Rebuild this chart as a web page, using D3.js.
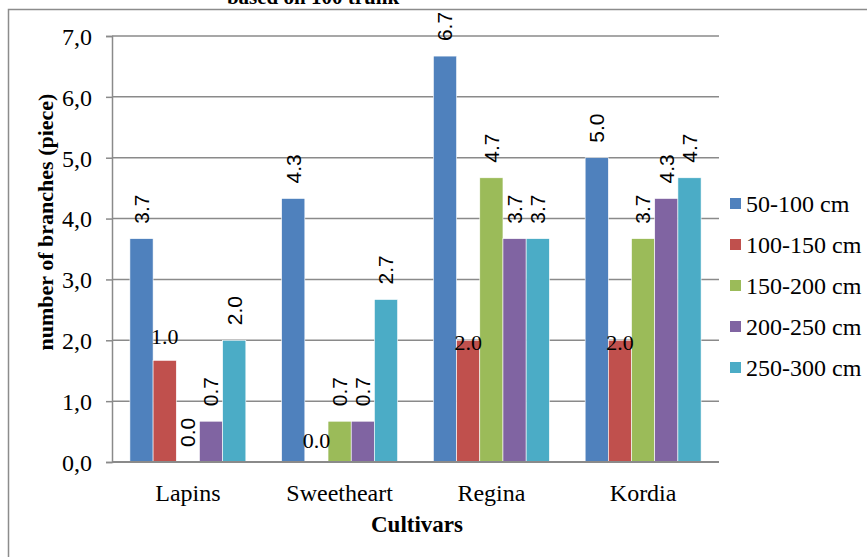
<!doctype html>
<html lang="en">
  <head>
    <meta charset="UTF-8" />
    <title>Number of branches by cultivar</title>
    <script src="https://d3js.org/d3.v7.min.js"></script>
    <style>
      body {
        margin: 0;
        padding: 0;
        background: #fff;
      }
      svg text {
        font-family: 'Liberation Serif', 'Times New Roman', serif;
        fill: #000;
      }
      svg text.rot {
        font-family: 'Liberation Sans', Arial, sans-serif;
      }
    </style>
  </head>
  <body>
    <svg id="chart" width="867" height="557"></svg>

    <script>
      const cultivars = ['Lapins', 'Sweetheart', 'Regina', 'Kordia'];
      const seriesNames = [
        '50-100 cm',
        '100-150 cm',
        '150-200 cm',
        '200-250 cm',
        '250-300 cm',
      ];
      const seriesColors = ['#4F81BD', '#C0504D', '#9BBB59', '#8064A2', '#4BACC6'];

      // bar heights per series (one value per cultivar)
      const s50_100 = [3.67, 4.33, 6.67, 5.0];
      const s100_150 = [1.67, 0.0, 2.0, 2.0];
      const s150_200 = [0.0, 0.67, 4.67, 3.67];
      const s200_250 = [0.67, 0.67, 3.67, 4.33];
      const s250_300 = [2.0, 2.67, 3.67, 4.67];

      // the value labels as printed on the chart
      const lab50_100 = ['3.7', '4.3', '6.7', '5.0'];
      const lab100_150 = ['1.0', '0.0', '2.0', '2.0'];
      const lab150_200 = ['0.0', '0.7', '4.7', '3.7'];
      const lab200_250 = ['0.7', '0.7', '3.7', '4.3'];
      const lab250_300 = ['2.0', '2.7', '3.7', '4.7'];
      // the 100-150 labels sit flat and were moved by hand: their centre, in axis units
      const lab100_150At = [2.07, 0.35, 1.97, 1.97];

      const yTicks = [0, 1, 2, 3, 4, 5, 6, 7];

      const values = [s50_100, s100_150, s150_200, s200_250, s250_300];
      const labels = [lab50_100, lab100_150, lab150_200, lab200_250, lab250_300];

      const svg = d3.select('#chart');

      // outer frame (cut off at the right and bottom)
      svg
        .append('rect')
        .attr('x', 8.5)
        .attr('y', 9.5)
        .attr('width', 900)
        .attr('height', 600)
        .attr('fill', 'none')
        .attr('stroke', '#8c8c8c')
        .attr('stroke-width', 1.5);

      // title, mostly above the picture
      svg
        .append('text')
        .attr('x', 313)
        .attr('y', 4)
        .attr('text-anchor', 'middle')
        .style('font-size', '21px')
        .style('font-weight', 'bold')
        .text('based on 100 trunk');

      const plot = { left: 112, right: 719, top: 36, bottom: 462 };

      const x0 = d3
        .scaleBand()
        .domain(cultivars)
        .range([plot.left, plot.right])
        .paddingInner(0.236)
        .paddingOuter(0.118);

      const x1 = d3
        .scaleBand()
        .domain(d3.range(seriesNames.length))
        .range([0, x0.bandwidth()]);

      const y = d3.scaleLinear().domain([0, 7]).range([plot.bottom, plot.top]);

      // gridlines
      svg
        .append('g')
        .selectAll('line')
        .data(yTicks.slice(1))
        .enter()
        .append('line')
        .attr('x1', plot.left)
        .attr('x2', plot.right)
        .attr('y1', (d) => y(d))
        .attr('y2', (d) => y(d))
        .attr('stroke', '#8a8a8a')
        .attr('stroke-width', 1.5);

      // bars
      const groups = svg
        .append('g')
        .selectAll('g')
        .data(values)
        .enter()
        .append('g')
        .attr('fill', (d, i) => seriesColors[i]);

      groups.each(function (vals, si) {
        d3.select(this)
          .selectAll('rect')
          .data(vals)
          .enter()
          .append('rect')
          .attr('x', (d, ci) => x0(cultivars[ci]) + x1(si))
          .attr('y', (d) => y(d))
          .attr('width', x1.bandwidth())
          .attr('height', (d) => plot.bottom - y(d))
          .attr('stroke', '#fff')
          .attr('stroke-width', 0.6);
      });

      // y axis
      const yAxis = svg
        .append('g')
        .attr('transform', `translate(${plot.left},0)`)
        .call(
          d3
            .axisLeft(y)
            .tickValues(yTicks)
            .tickSize(6)
            .tickPadding(14)
            .tickFormat((d) => d3.format('.1f')(d).replace('.', ',')),
        );
      yAxis.select('.domain').attr('stroke', '#8a8a8a').attr('stroke-width', 1.5);
      yAxis.selectAll('.tick line').attr('stroke', '#8a8a8a').attr('stroke-width', 1.5);
      yAxis
        .selectAll('.tick text')
        .style('font-size', '24px')
        .attr('dy', '0.35em');

      // x axis
      const xAxis = svg
        .append('g')
        .attr('transform', `translate(0,${plot.bottom})`)
        .call(d3.axisBottom(x0).tickSize(0).tickPadding(22));
      xAxis
        .select('.domain')
        .attr('stroke', '#8a8a8a')
        .attr('stroke-width', 2)
        .attr('d', `M${plot.left},0H${plot.right}`);
      xAxis.selectAll('.tick text').style('font-size', '24px');

      // value labels
      values.forEach(function (vals, si) {
        vals.forEach(function (v, ci) {
          const cx = x0(cultivars[ci]) + x1(si) + x1.bandwidth() / 2;
          if (si === 1) {
            svg
              .append('text')
              .attr('x', cx)
              .attr('y', y(lab100_150At[ci]))
              .attr('dy', '0.35em')
              .attr('text-anchor', 'middle')
              .style('font-size', '22px')
              .text(labels[si][ci]);
          } else {
            const ty = y(v) - 15;
            svg
              .append('text')
              .attr('class', 'rot')
              .attr('transform', `translate(${cx},${ty}) rotate(-90)`)
              .attr('dy', '0.35em')
              .attr('text-anchor', 'start')
              .style('font-size', '21px')
              .text(labels[si][ci]);
          }
        });
      });

      // axis titles
      svg
        .append('text')
        .attr('transform', 'translate(45,222) rotate(-90)')
        .attr('text-anchor', 'middle')
        .attr('dy', '0.35em')
        .style('font-size', '22px')
        .style('font-weight', 'bold')
        .text('number of branches (piece)');

      svg
        .append('text')
        .attr('x', 417)
        .attr('y', 532)
        .attr('text-anchor', 'middle')
        .style('font-size', '23px')
        .style('font-weight', 'bold')
        .text('Cultivars');

      // legend
      const legend = svg
        .append('g')
        .selectAll('g')
        .data(seriesNames)
        .enter()
        .append('g')
        .attr('transform', (d, i) => `translate(730,${204 + i * 41})`);

      legend
        .append('rect')
        .attr('x', 0)
        .attr('y', -6)
        .attr('width', 11)
        .attr('height', 11)
        .attr('fill', (d, i) => seriesColors[i]);

      legend
        .append('text')
        .attr('x', 16)
        .attr('y', 0)
        .attr('dy', '0.35em')
        .style('font-size', '24px')
        .text((d) => d);
    </script>
  </body>
</html>
